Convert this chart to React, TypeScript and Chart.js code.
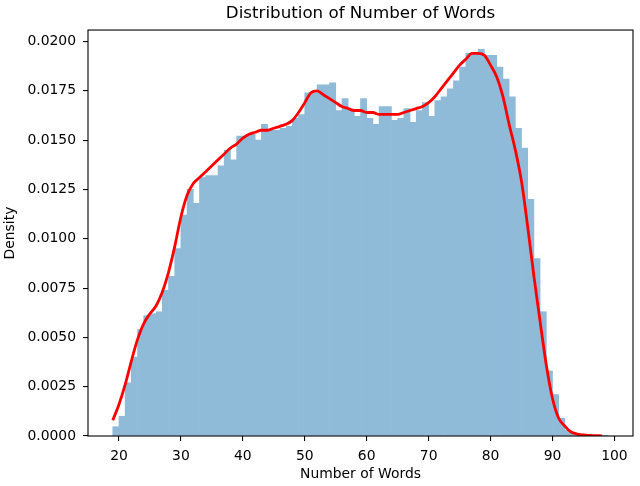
import React, { useEffect, useRef } from "react";
import { Chart, registerables } from "chart.js";

Chart.register(...registerables);

const TITLE = "Distribution of Number of Words";
const X_LABEL = "Number of Words";
const Y_LABEL = "Density";

// histogram bins: left edges (width 1)
const BIN_LEFT = [
  19, 20, 21, 22, 23, 24, 25, 26, 27, 28, 29, 30, 31, 32, 33, 34, 35, 36, 37, 38,
  39, 40, 41, 42, 43, 44, 45, 46, 47, 48, 49, 50, 51, 52, 53, 54, 55, 56, 57, 58,
  59, 60, 61, 62, 63, 64, 65, 66, 67, 68, 69, 70, 71, 72, 73, 74, 75, 76, 77, 78,
  79, 80, 81, 82, 83, 84, 85, 86, 87, 88, 89, 90, 91, 92, 93, 94, 95, 96, 97, 98,
];
const BIN_DENSITY = [
  0.00047, 0.001, 0.0027, 0.004, 0.0054, 0.0061, 0.0062, 0.0063, 0.0074, 0.0081,
  0.0095, 0.0112, 0.0125, 0.0118, 0.0131, 0.0132, 0.0132, 0.0137, 0.0145, 0.014,
  0.0152, 0.0152, 0.0153, 0.015, 0.0158, 0.0155, 0.0155, 0.0156, 0.0157, 0.0161,
  0.0163, 0.0174, 0.0174, 0.0178, 0.0178, 0.0179, 0.0165, 0.0171, 0.0165, 0.0162,
  0.0171, 0.0161, 0.0158, 0.0167, 0.0167, 0.016, 0.0161, 0.0166, 0.0159, 0.0165,
  0.0169, 0.0162, 0.017, 0.0172, 0.0176, 0.018, 0.0187, 0.0194, 0.0194, 0.0196,
  0.0193, 0.0193, 0.0187, 0.0181, 0.0172, 0.0156, 0.0146, 0.012, 0.009, 0.0063,
  0.0033, 0.0021, 0.0009, 0.0003, 0.0001, 0.00005, 0.00003, 0.00002, 0.00001, 0.00001,
];

// KDE curve samples
const KDE_X = [
  19, 20, 21, 22, 23, 24, 25, 26, 27, 28, 29, 30, 31, 32, 33, 34, 35, 36, 37, 38,
  39, 40, 41, 42, 43, 44, 45, 46, 47, 48, 49, 50, 51, 52, 53, 54, 55, 56, 57, 58,
  59, 60, 61, 62, 63, 64, 65, 66, 67, 68, 69, 70, 71, 72, 73, 74, 75, 76, 77, 78,
  79, 80, 81, 82, 83, 84, 85, 86, 87, 88, 89, 90, 91, 92, 93, 94, 95, 96, 97, 98,
];
const KDE_Y = [
  0.0008, 0.0016, 0.0026, 0.0038, 0.0049, 0.0057, 0.0062, 0.0066, 0.0073, 0.0083,
  0.0096, 0.0111, 0.0122, 0.0128, 0.0131, 0.0134, 0.0137, 0.014, 0.0143, 0.0146,
  0.0148, 0.0151, 0.0153, 0.0154, 0.0155, 0.0155, 0.0156, 0.0157, 0.0158, 0.016,
  0.0164, 0.0169, 0.0174, 0.0175, 0.0173, 0.0171, 0.0169, 0.0167, 0.0166, 0.0165,
  0.0165, 0.0164, 0.0164, 0.0163, 0.0163, 0.0163, 0.0163, 0.0164, 0.0165, 0.0166,
  0.0167, 0.0169, 0.0172, 0.0176, 0.018, 0.0184, 0.0188, 0.0191, 0.0194, 0.0194,
  0.0193, 0.0188, 0.0182, 0.0172, 0.0158, 0.0145, 0.0129, 0.0106, 0.0081, 0.0058,
  0.0036, 0.0019, 0.0009, 0.0005, 0.0002, 0.0001, 0.00005, 0.00003, 0.00002, 0.00001,
];

const X_TICKS = [20, 30, 40, 50, 60, 70, 80, 90, 100];
const Y_TICKS = [0, 0.0025, 0.005, 0.0075, 0.01, 0.0125, 0.015, 0.0175, 0.02];
const X_MIN = 15.0;
const X_MAX = 103.0;
const Y_MAX = 0.02058;

const FONT = "'DejaVu Sans', sans-serif";

const framePlugin = {
  id: "frame",
  afterDatasetsDraw(chart: any) {
    const { ctx, chartArea } = chart;
    ctx.save();
    ctx.strokeStyle = "#000";
    ctx.lineWidth = 1.1;
    ctx.strokeRect(chartArea.left, chartArea.top, chartArea.right - chartArea.left, chartArea.bottom - chartArea.top);
    ctx.restore();
  },
};

export default function App() {
  const ref = useRef<HTMLCanvasElement | null>(null);

  useEffect(() => {
    if (!ref.current) return;
    const barData = BIN_LEFT.map((x, i) => ({ x: x + 0.5, y: BIN_DENSITY[i] }));
    const kdeData = KDE_X.map((x, i) => ({ x, y: KDE_Y[i] }));
    const chart = new Chart(ref.current, {
      type: "bar",
      data: {
        datasets: [
          {
            type: "bar",
            data: barData,
            backgroundColor: "#8fbbd9",
            borderWidth: 0,
            barPercentage: 1,
            categoryPercentage: 1,
            order: 1,
          } as any,
          {
            type: "line",
            data: kdeData,
            borderColor: "#ff0000",
            borderWidth: 2.8,
            pointRadius: 0,
            cubicInterpolationMode: "monotone",
            fill: false,
            order: 0,
          } as any,
        ],
      },
      options: {
        responsive: false,
        animation: false,
        devicePixelRatio: 1,
        layout: { padding: { left: 0, right: 7, top: 0, bottom: 0 } },
        plugins: {
          legend: { display: false },
          tooltip: { enabled: false },
          title: {
            display: true,
            text: TITLE,
            fullSize: false,
            color: "#000",
            font: { family: FONT, size: 16.7, weight: "normal" },
            padding: { top: 4, bottom: 6 },
          },
        },
        scales: {
          x: {
            type: "linear",
            min: X_MIN,
            max: X_MAX,
            offset: false,
            afterBuildTicks: (s: any) => {
              s.ticks = X_TICKS.map((v) => ({ value: v }));
            },
            afterFit: (s: any) => {
              s.height = 50;
            },
            grid: { offset: false, drawOnChartArea: false, drawTicks: true, tickLength: 5, tickColor: "#000", lineWidth: 1.1 },
            border: { display: false },
            ticks: {
              color: "#000",
              padding: 7,
              maxRotation: 0,
              autoSkip: false,
              font: { family: FONT, size: 13.9 },
              callback: (v: any) => String(v),
            },
            title: {
              display: true,
              text: X_LABEL,
              color: "#000",
              font: { family: FONT, size: 13.9 },
              padding: { top: 0, bottom: 3 },
            },
          },
          y: {
            type: "linear",
            min: 0,
            max: Y_MAX,
            afterBuildTicks: (s: any) => {
              s.ticks = Y_TICKS.map((v) => ({ value: v }));
            },
            afterFit: (s: any) => {
              s.width = 88;
            },
            grid: { drawOnChartArea: false, drawTicks: true, tickLength: 5, tickColor: "#000", lineWidth: 1.1 },
            border: { display: false },
            ticks: {
              color: "#000",
              padding: 7,
              autoSkip: false,
              font: { family: FONT, size: 13.9 },
              callback: (v: any) => Number(v).toFixed(4),
            },
            title: {
              display: true,
              text: Y_LABEL,
              color: "#000",
              font: { family: FONT, size: 13.9 },
              padding: { top: 2, bottom: 0 },
            },
          },
        },
      },
      plugins: [framePlugin],
    });
    return () => chart.destroy();
  }, []);

  return (
    <div style={{ position: "absolute", left: 0, top: 0, width: 640, height: 486, background: "#fff" }}>
      <canvas ref={ref} width={640} height={486} style={{ display: "block" }} />
    </div>
  );
}
